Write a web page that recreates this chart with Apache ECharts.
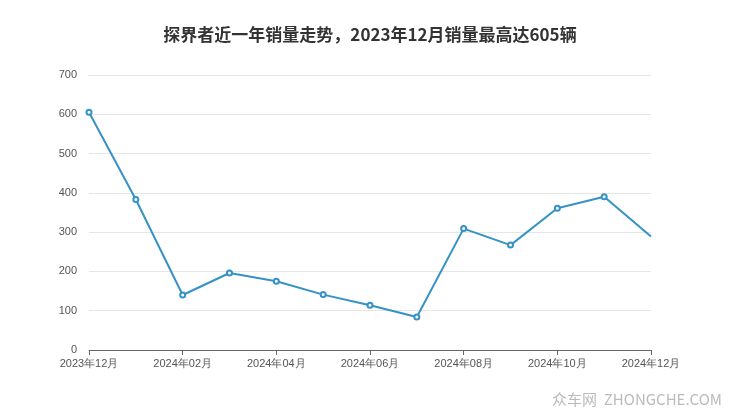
<!DOCTYPE html><html><head><meta charset="utf-8"><script src="https://cdn.jsdelivr.net/npm/echarts@6/dist/echarts.min.js"></script></head><body style="margin:0"><div id="c" style="width:740px;height:417px"></div><script>
const categories=['2023年12月','2024年01月','2024年02月','2024年03月','2024年04月','2024年05月','2024年06月','2024年07月','2024年08月','2024年09月','2024年10月','2024年11月','2024年12月'];
const sales=[605,383,140,196,175,141,114,84,309,267,361,390,289];
const c=echarts.init(document.getElementById('c'));
c.setOption({animation:false,
title:{text:'探界者近一年销量走势，2023年12月销量最高达605辆',left:'center',top:21,textStyle:{fontSize:17,fontWeight:'bold',color:'#333',fontFamily:'Noto Sans CJK SC'}},
grid:{left:89,right:89,top:75,bottom:67},
xAxis:{type:'category',data:categories,boundaryGap:false,axisLine:{lineStyle:{color:'#666'}},axisTick:{interval:1,lineStyle:{color:'#666'}},axisLabel:{interval:1,color:'#555',fontSize:11,margin:8}},
yAxis:{type:'value',min:0,max:700,interval:100,axisLine:{show:false},axisTick:{show:false},axisLabel:{color:'#555',fontSize:11,margin:12},splitLine:{lineStyle:{color:'#e6e6e6'}}},
series:[{type:'line',data:sales.map((v,i)=>i===sales.length-1?{value:v,symbol:'none'}:v),symbol:'emptyCircle',symbolSize:5,lineStyle:{color:'#3592c7',width:2},itemStyle:{color:'#3592c7'}}],
graphic:[{type:'text',right:18,bottom:10,style:{text:'众车网  ZHONGCHE.COM',fill:'#bbb',fontSize:15,fontFamily:'Noto Sans CJK SC'}}]
});
</script></body></html>
